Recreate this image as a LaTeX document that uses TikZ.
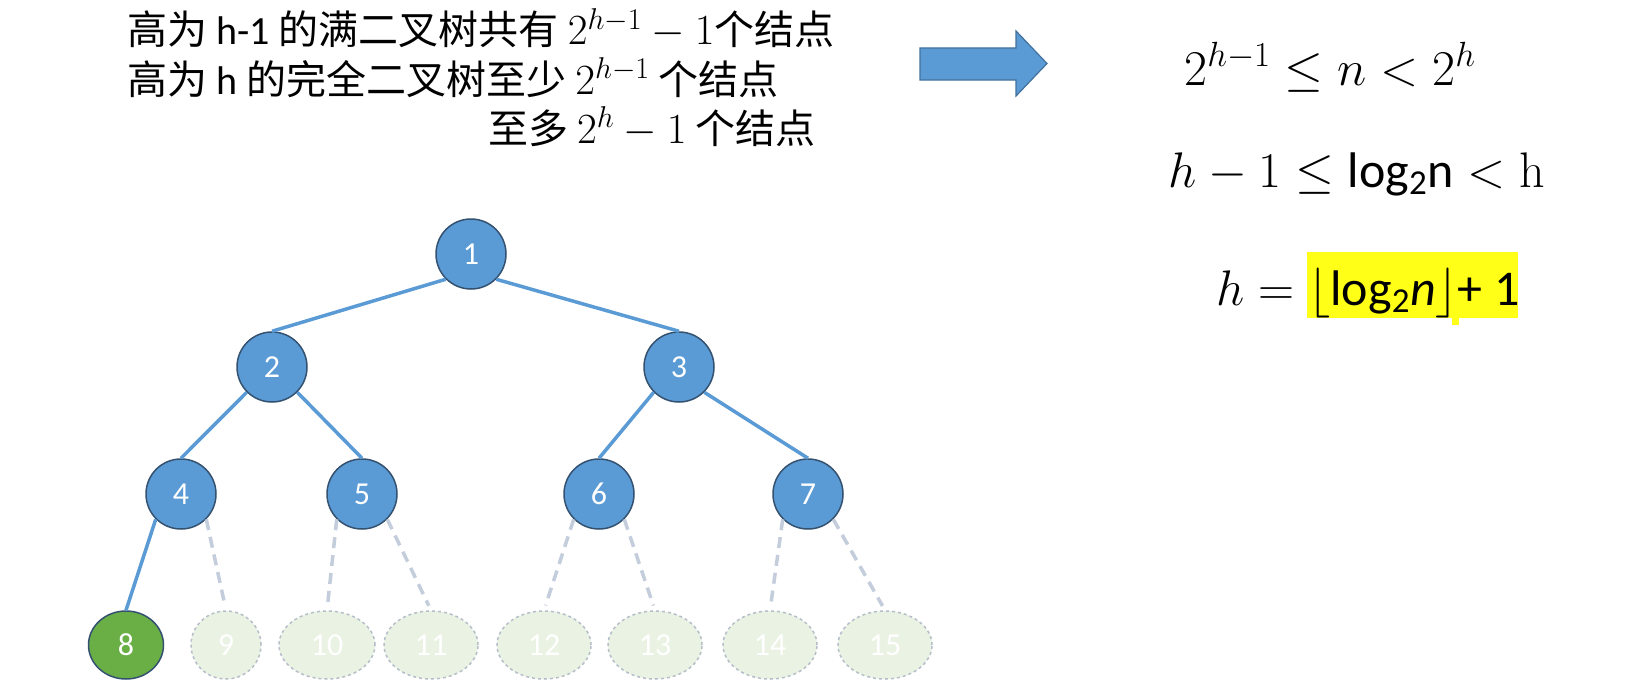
\RequirePackage{fix-cm}
\documentclass[tikz,border=0pt]{standalone}
\usepackage[no-math]{fontspec}
\usepackage{amsmath}
\usepackage{tikz}
\usetikzlibrary{positioning,shapes.geometric}
\setmainfont{Carlito}
\newfontfamily\cjk{Noto Sans CJK SC}
\definecolor{nodeblue}{RGB}{91,155,213}
\definecolor{nodeline}{RGB}{52,82,112}
\definecolor{leafgreen}{RGB}{106,174,70}
\definecolor{ghostfill}{RGB}{234,243,227}
\definecolor{ghostline}{RGB}{182,190,202}
\definecolor{dashline}{RGB}{196,205,219}
\definecolor{arrline}{RGB}{65,113,156}
\definecolor{hlyellow}{RGB}{255,255,24}

\begin{document}
\begin{tikzpicture}[
    x=1pt, y=-1pt,
    tnode/.style={circle, draw=nodeline, line width=1.5pt, fill=nodeblue, minimum size=70pt,
                  inner sep=0pt, text=white, font=\fontsize{32}{32}\selectfont},
    leaf/.style={ellipse, draw=nodeline, line width=1.5pt, fill=leafgreen, minimum width=75pt,
                 minimum height=68pt, inner sep=0pt, text=white, font=\fontsize{32}{32}\selectfont},
    ghost/.style={ellipse, draw=ghostline, dashed, line width=1.5pt, fill=ghostfill, minimum width=94pt,
                  minimum height=68pt, inner sep=0pt, text=white, font=\fontsize{32}{32}\selectfont},
    edg/.style={nodeblue, line width=3.5pt},
    dedg/.style={dashline, line width=3.5pt, dash pattern=on 11pt off 7pt, shorten >=5pt},
    txt/.style={anchor=base west, inner sep=0pt, font=\fontsize{40}{48}\selectfont},
    mth/.style={anchor=base, inner sep=0pt, font=\fontsize{50}{60}\selectfont}
  ]
    \path[use as bounding box, fill=white] (0,0) rectangle (1627,685);

    \node[txt] (t1) at (127,45) {{\cjk 高为} h-1 {\cjk 的满二叉树共有} {\fontsize{43}{48}\selectfont$2^{h-1}-1$}{\cjk 个结点}};
    \node[txt] (t2) at (127,94) {{\cjk 高为} h {\cjk 的完全二叉树至少} {\fontsize{43}{48}\selectfont$2^{h-1}$} {\cjk 个结点}};
    \node[txt] (t3) at (488,143) {{\cjk 至多} {\fontsize{43}{48}\selectfont$2^h-1$} {\cjk 个结点}};

    \draw[fill=nodeblue, draw=arrline, line width=1.2pt]
      (920,48) -- (1016,48) -- (1016,31) -- (1047,63.5) -- (1016,96) -- (1016,80) -- (920,80) -- cycle;

    \node[mth] (f1) at (1330,85) {$2^{h-1} \leq n < 2^h$};
    \node[mth] (f2) at (1357,187) {$h-1 \leq \text{log\textsubscript{2}n} < \mathrm{h}$};
    \fill[hlyellow] (1307,252) rectangle (1518,318);
    \fill[hlyellow] (1452,318) rectangle (1459,325);
    \node[mth, anchor=base west] (f3) at (1216,305) {$h = \lfloor\text{log\textsubscript{2}\textit{n}}\rfloor$+ 1};

    \node[tnode] (n1) at (471,254) {1};
    \node[tnode] (n2) at (272,367) {2};
    \node[tnode] (n3) at (679,367) {3};
    \node[tnode] (n4) at (181,494) {4};
    \node[tnode] (n5) at (362,494) {5};
    \node[tnode] (n6) at (599,494) {6};
    \node[tnode] (n7) at (808,494) {7};
    \node[leaf] (n8) at (126,645) {8};
    \node[ghost, minimum width=70pt] (n9) at (226,645) {9};
    \node[ghost, minimum width=96pt] (n10) at (327,645) {10};
    \node[ghost] (n11) at (431,645) {11};
    \node[ghost] (n12) at (544,645) {12};
    \node[ghost] (n13) at (655,645) {13};
    \node[ghost] (n14) at (770,645) {14};
    \node[ghost] (n15) at (885,645) {15};

    \draw[edg] (n1.south west) -- (n2.north);
    \draw[edg] (n1.south east) -- (n3.north);
    \draw[edg] (n2.south west) -- (n4.north);
    \draw[edg] (n2.south east) -- (n5.north);
    \draw[edg] (n3.south west) -- (n6.north);
    \draw[edg] (n3.south east) -- (n7.north);
    \draw[edg] (n4.south west) -- (n8.north);
    \draw[dedg] (n4.south east) -- (n9.north);
    \draw[dedg] (n5.south west) -- (n10.north);
    \draw[dedg] (n5.south east) -- (n11.north);
    \draw[dedg] (n6.south west) -- (n12.north);
    \draw[dedg] (n6.south east) -- (n13.north);
    \draw[dedg] (n7.south west) -- (n14.north);
    \draw[dedg] (n7.south east) -- (n15.north);
  \end{tikzpicture}
\end{document}
